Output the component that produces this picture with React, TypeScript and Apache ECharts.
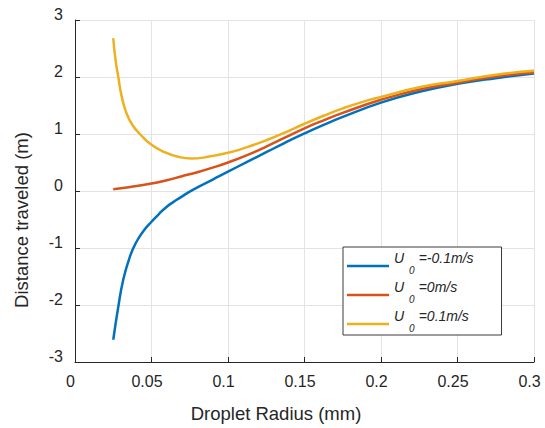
import React, { useEffect, useRef } from "react";
import * as echarts from "echarts";

// x tick / axis settings
const xTicks = [0, 0.05, 0.1, 0.15, 0.2, 0.25, 0.3];
const yTicks = [-3, -2, -1, 0, 1, 2, 3];

// Series: U0 = -0.1 m/s
const blueX = [0.025, 0.0283, 0.0315, 0.0359, 0.0402, 0.0445, 0.05, 0.055, 0.0598, 0.065, 0.0685, 0.077, 0.09, 0.1, 0.1125, 0.125, 0.1375, 0.15, 0.1625, 0.175, 0.2, 0.225, 0.25, 0.275, 0.3];
const blueY = [-2.61, -2.03, -1.56, -1.15, -0.89, -0.71, -0.54, -0.4, -0.28, -0.18, -0.12, 0.02, 0.2, 0.34, 0.51, 0.68, 0.85, 1.01, 1.16, 1.3, 1.55, 1.74, 1.88, 1.98, 2.06];

// Series: U0 = 0 m/s
const orangeX = [0.025, 0.035, 0.05, 0.06, 0.07, 0.08, 0.09, 0.1, 0.1125, 0.125, 0.1375, 0.15, 0.1625, 0.175, 0.2, 0.225, 0.25, 0.275, 0.3];
const orangeY = [0.03, 0.065, 0.13, 0.19, 0.26, 0.33, 0.41, 0.5, 0.63, 0.78, 0.94, 1.1, 1.24, 1.37, 1.6, 1.78, 1.9, 2.01, 2.08];

// Series: U0 = 0.1 m/s
const yellowX = [0.025, 0.0265, 0.0283, 0.0305, 0.0337, 0.038, 0.0424, 0.05, 0.0587, 0.0674, 0.0761, 0.0848, 0.1, 0.1125, 0.125, 0.1375, 0.15, 0.1625, 0.175, 0.1875, 0.2, 0.225, 0.25, 0.275, 0.3];
const yellowY = [2.68, 2.3, 2.0, 1.66, 1.36, 1.14, 1.0, 0.81, 0.68, 0.6, 0.57, 0.59, 0.67, 0.77, 0.89, 1.03, 1.18, 1.32, 1.45, 1.56, 1.65, 1.82, 1.93, 2.04, 2.11];

const seriesNames = ["U0=-0.1m/s", "U0=0m/s", "U0=0.1m/s"];
const legendSuffix = ["=-0.1m/s", "=0m/s", "=0.1m/s"];
const colors = ["#0072BD", "#D95319", "#EDB120"];

const xLabel = "Droplet Radius (mm)";
const yLabel = "Distance traveled (m)";

const FONT = "'Liberation Sans', Arial, Helvetica, sans-serif";
const INK = "#262626";

function zip(xs: number[], ys: number[]) {
  return xs.map((x, i) => [x, ys[i]]);
}

export default function App() {
  const ref = useRef<HTMLDivElement>(null);
  useEffect(() => {
    if (!ref.current) return;
    const chart = echarts.init(ref.current, null, { renderer: "svg" });
    const datasets = [zip(blueX, blueY), zip(orangeX, orangeY), zip(yellowX, yellowY)];
    chart.setOption({
      animation: false,
      backgroundColor: "#ffffff",
      textStyle: { fontFamily: FONT },
      grid: { left: 75, right: 11, top: 20, bottom: 66 },
      legend: {
        orient: "vertical",
        left: 343,
        top: 247,
        padding: [4, 28, 2, 4],
        icon: "rect",
        itemWidth: 42,
        itemHeight: 2.5,
        itemGap: 5,
        itemTextGap: 3,
        borderColor: "#3a3a3a",
        borderWidth: 1,
        backgroundColor: "#ffffff",
        data: seriesNames,
        formatter: (name: string) => {
          const i = seriesNames.indexOf(name);
          return `{u|U}{s|0}{t|${legendSuffix[i]}}`;
        },
        textStyle: {
          fontFamily: FONT,
          color: INK,
          rich: {
            u: { fontSize: 14, fontStyle: "italic", fontFamily: FONT, color: INK, padding: [0, 0, 16, 0] },
            s: { fontSize: 10, fontStyle: "italic", fontFamily: FONT, color: INK, padding: [8, 4, 0, 5] },
            t: { fontSize: 14, fontStyle: "italic", fontFamily: FONT, color: INK, padding: [0, 0, 16, 0] },
          },
        },
      },
      xAxis: {
        type: "value",
        min: xTicks[0],
        max: xTicks[xTicks.length - 1],
        interval: 0.05,
        name: xLabel,
        nameLocation: "middle",
        nameGap: 42,
        nameTextStyle: { fontSize: 18.5, color: INK, fontFamily: FONT, padding: [0, 57, 0, 0] },
        axisLine: { show: true, onZero: false, lineStyle: { color: INK, width: 1 } },
        axisTick: { show: true, inside: true, length: 5, lineStyle: { color: INK } },
        axisLabel: { fontSize: 16, color: INK, margin: 11, padding: [0, 9, 0, 0], fontFamily: FONT },
        splitLine: { show: true, lineStyle: { color: "#e3e3e3", width: 1 } },
      },
      yAxis: {
        type: "value",
        min: yTicks[0],
        max: yTicks[yTicks.length - 1],
        interval: 1,
        name: yLabel,
        nameLocation: "middle",
        nameGap: 44,
        nameTextStyle: { fontSize: 18.5, color: INK, fontFamily: FONT, padding: [0, 58, 0, 0] },
        axisLine: { show: true, onZero: false, lineStyle: { color: INK, width: 1 } },
        axisTick: { show: true, inside: true, length: 5, lineStyle: { color: INK } },
        axisLabel: {
          fontSize: 16,
          color: INK,
          margin: 12,
          verticalAlign: "bottom",
          lineHeight: 12,
          fontFamily: FONT,
        },
        splitLine: { show: true, lineStyle: { color: "#e3e3e3", width: 1 } },
      },
      series: datasets.map((d, i) => ({
        name: seriesNames[i],
        type: "line",
        data: d,
        showSymbol: false,
        symbol: "none",
        smooth: 0.5,
        color: colors[i],
        lineStyle: { color: colors[i], width: 2.5 },
        z: 2 + i,
      })),
    });
    return () => chart.dispose();
  }, []);
  return (
    <div
      ref={ref}
      style={{ position: "absolute", left: 0, top: 0, width: 545, height: 428, background: "#fff" }}
    />
  );
}
